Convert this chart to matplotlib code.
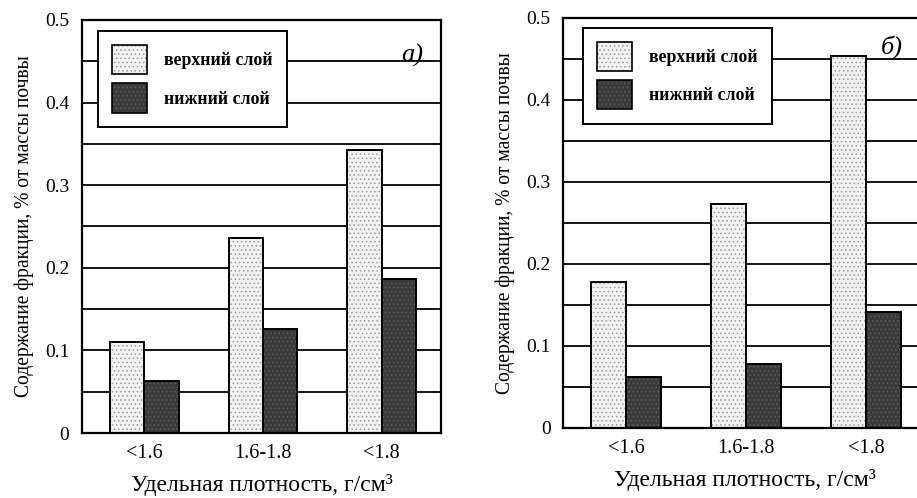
import matplotlib
matplotlib.use("Agg")
import matplotlib.pyplot as plt
from matplotlib.patches import Patch
import numpy as np

plt.rcParams['font.family'] = ['Liberation Serif', 'DejaVu Serif']
plt.rcParams['hatch.linewidth'] = 0.6

categories = ["<1.6", "1.6-1.8", "<1.8"]
upper_a = [0.110, 0.236, 0.343]
lower_a = [0.063, 0.126, 0.187]
upper_b = [0.178, 0.273, 0.453]
lower_b = [0.062, 0.078, 0.141]
series_names = ["верхний слой", "нижний слой"]
yticks = [0, 0.1, 0.2, 0.3, 0.4, 0.5]
yticklabels = ["0", "0.1", "0.2", "0.3", "0.4", "0.5"]
panel_labels = ["a)", "б)"]
ylabel = "Содержание фракции, % от массы почвы"
xlabel = "Удельная плотность, г/см³"

UP_FACE = "#f2f2f2"
UP_HATCH = "#9a9a9a"
LO_FACE = "#3a3a3a"
LO_HATCH = "#5e5e5e"

fig = plt.figure(figsize=(9.17, 4.98), dpi=100)
ax_a = fig.add_axes([0.0894, 0.1305, 0.3915, 0.8295])
ax_b = fig.add_axes([0.6140, 0.1406, 0.3960, 0.8234])

w = 0.29

def draw(ax, up, lo, label, leg_pos, label_pos):
    x = np.arange(len(categories))
    ax.bar(x - w / 2, up, w, facecolor=UP_FACE, edgecolor=UP_HATCH, hatch='....', linewidth=0, zorder=2)
    ax.bar(x - w / 2, up, w, facecolor='none', edgecolor='black', linewidth=1.4, zorder=3)
    ax.bar(x + w / 2, lo, w, facecolor=LO_FACE, edgecolor=LO_HATCH, hatch='....', linewidth=0, zorder=2)
    ax.bar(x + w / 2, lo, w, facecolor='none', edgecolor='black', linewidth=1.4, zorder=3)
    ax.set_xlim(-0.525, 2.5)
    ax.set_ylim(0, 0.5)
    ax.set_yticks(yticks)
    ax.set_yticklabels(yticklabels)
    ax.set_yticks(np.arange(0.05, 0.5, 0.1), minor=True)
    ax.grid(True, which='both', axis='y', color='black', linewidth=1.3, zorder=1)
    ax.set_axisbelow(True)
    ax.set_xticks(x)
    ax.set_xticklabels(categories)
    ax.tick_params(axis='y', which='both', length=0, labelsize=14, pad=9)
    ax.tick_params(axis='x', which='both', length=0, labelsize=14.5, pad=8)
    for s in ax.spines.values():
        s.set_linewidth(1.6)
    ax.set_xlabel(xlabel, fontsize=17, labelpad=8)
    ax.set_ylabel(ylabel, fontsize=14.1, labelpad=8)
    h_up = (Patch(facecolor=UP_FACE, edgecolor=UP_HATCH, hatch='....', linewidth=0),
            Patch(facecolor='none', edgecolor='black', linewidth=1.2))
    h_lo = (Patch(facecolor=LO_FACE, edgecolor=LO_HATCH, hatch='....', linewidth=0),
            Patch(facecolor='none', edgecolor='black', linewidth=1.2))
    leg = ax.legend([h_up, h_lo], series_names, loc='upper left', bbox_to_anchor=leg_pos,
                    prop={'size': 12.8, 'weight': 'bold'},
                    handlelength=1.95, handleheight=2.15, labelspacing=0.5,
                    handletextpad=0.95, borderpad=0.8, borderaxespad=0.0,
                    fancybox=False, framealpha=1, edgecolor='black')
    leg.get_frame().set_linewidth(1.4)
    leg.set_zorder(5)
    ax.text(label_pos[0], label_pos[1], label, transform=ax.transAxes, fontsize=19,
            fontstyle='italic', ha='center', va='center')

draw(ax_a, upper_a, lower_a, panel_labels[0], (0.045, 0.973), (0.92, 0.915))
draw(ax_b, upper_b, lower_b, panel_labels[1], (0.055, 0.976), (0.905, 0.93))

fig.savefig("out.png", dpi=100)
